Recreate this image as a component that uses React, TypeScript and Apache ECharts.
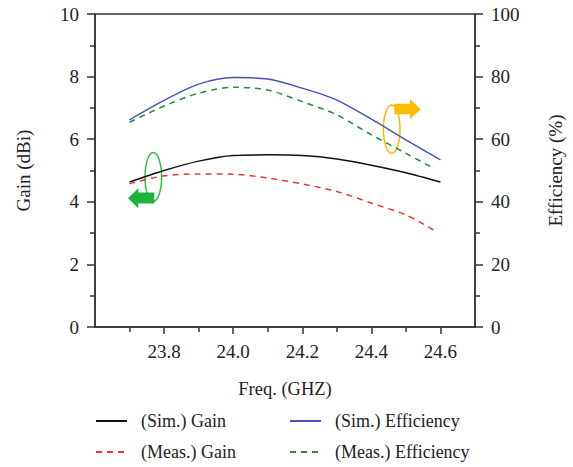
import React, { useEffect, useRef } from "react";
import * as echarts from "echarts";

const simFreq = [23.7, 23.8, 23.9, 24.0, 24.1, 24.2, 24.3, 24.4, 24.5, 24.6];
const measFreq = [23.7, 23.8, 23.9, 24.0, 24.1, 24.2, 24.3, 24.4, 24.5, 24.58];
const simGain = [4.63, 5.0, 5.3, 5.48, 5.5, 5.48, 5.37, 5.17, 4.93, 4.63];
const measGain = [4.58, 4.83, 4.89, 4.88, 4.76, 4.57, 4.33, 3.96, 3.58, 3.1];
const simEff = [66.2, 72.4, 77.6, 79.7, 79.2, 76.3, 72.5, 66.4, 59.8, 53.4];
const measEff = [65.4, 70.6, 74.7, 76.6, 75.7, 72.0, 67.8, 61.4, 55.5, 50.7];
const xTickValues = [23.8, 24.0, 24.2, 24.4, 24.6];
const seriesNames = ["(Sim.) Gain", "(Meas.) Gain", "(Sim.) Efficiency", "(Meas.) Efficiency"];

const FONT = "'Liberation Serif', 'Times New Roman', serif";
const AX = "#333";

export default function App() {
  const ref = useRef<HTMLDivElement>(null);
  useEffect(() => {
    if (!ref.current) return;
    const chart = echarts.init(ref.current, null, { renderer: "svg" });
    const pair = (xs: number[], ys: number[]) => xs.map((x, i) => [x, ys[i]]);
    const legendText = { fontFamily: FONT, fontSize: 18, color: "#222", padding: [0, 0, 0, 9] };
    const legendBase = {
      orient: "vertical",
      top: 412,
      height: 70,
      width: 200,
      padding: 0,
      itemWidth: 31,
      itemHeight: 14,
      itemGap: 13,
      textStyle: legendText,
      itemStyle: { opacity: 0 },
    };
    chart.setOption({
      animation: false,
      grid: { left: 95, right: 89, top: 14, bottom: 140, show: true, borderColor: AX, borderWidth: 1.5, backgroundColor: "transparent" },
      legend: [
        { ...legendBase, data: [seriesNames[0], seriesNames[1]], left: 95 },
        { ...legendBase, data: [seriesNames[2], seriesNames[3]], left: 289 },
      ],
      xAxis: {
        type: "value",
        min: 23.6,
        max: 24.7,
        interval: 0.2,
        name: "Freq. (GHZ)",
        nameLocation: "middle",
        nameGap: 52,
        nameTextStyle: { fontFamily: FONT, fontSize: 18.5, color: "#222" },
        axisLine: { lineStyle: { color: AX, width: 1.5 } },
        axisTick: { customValues: xTickValues, length: 7, lineStyle: { color: AX, width: 1.5 } },
        minorTick: { show: true, splitNumber: 2, length: 5, lineStyle: { color: AX, width: 1.5 } },
        axisLabel: {
          customValues: xTickValues,
          margin: 15,
          fontFamily: FONT,
          fontSize: 19,
          color: "#222",
          formatter: (v: number) => v.toFixed(1),
        },
        splitLine: { show: false },
      },
      yAxis: [
        {
          type: "value",
          min: 0,
          max: 10,
          interval: 2,
          name: "Gain (dBi)",
          nameLocation: "middle",
          nameGap: 62,
          nameTextStyle: { fontFamily: FONT, fontSize: 19, color: "#222" },
          axisLine: { show: true, lineStyle: { color: AX, width: 1.5 } },
          axisTick: { show: true, length: 8, lineStyle: { color: AX, width: 1.5 } },
          minorTick: { show: true, splitNumber: 2, length: 5, lineStyle: { color: AX, width: 1.5 } },
          axisLabel: { margin: 16, fontFamily: FONT, fontSize: 19, color: "#222" },
          splitLine: { show: false },
        },
        {
          type: "value",
          min: 0,
          max: 100,
          interval: 20,
          position: "right",
          name: "Efficiency (%)",
          nameLocation: "middle",
          nameRotate: 90,
          nameGap: 71,
          nameTextStyle: { fontFamily: FONT, fontSize: 19, color: "#222" },
          axisLine: { show: true, lineStyle: { color: AX, width: 1.5 } },
          axisTick: { show: true, length: 8, lineStyle: { color: AX, width: 1.5 } },
          minorTick: { show: true, splitNumber: 2, length: 5, lineStyle: { color: AX, width: 1.5 } },
          axisLabel: { margin: 16, fontFamily: FONT, fontSize: 19, color: "#222" },
          splitLine: { show: false },
        },
      ],
      series: [
        {
          name: seriesNames[0],
          type: "line",
          yAxisIndex: 0,
          data: pair(simFreq, simGain),
          smooth: 0.3,
          symbol: "none",
          lineStyle: { color: "#111", width: 1.5 },
          itemStyle: { color: "#111" },
        },
        {
          name: seriesNames[1],
          type: "line",
          yAxisIndex: 0,
          data: pair(measFreq, measGain),
          smooth: 0.3,
          symbol: "none",
          lineStyle: { color: "#e8392e", width: 1.5, type: [6, 5] },
          itemStyle: { color: "#e8392e" },
        },
        {
          name: seriesNames[2],
          type: "line",
          yAxisIndex: 1,
          data: pair(simFreq, simEff),
          smooth: 0.3,
          symbol: "none",
          lineStyle: { color: "#4a52b8", width: 1.5 },
          itemStyle: { color: "#4a52b8" },
        },
        {
          name: seriesNames[3],
          type: "line",
          yAxisIndex: 1,
          data: pair(measFreq, measEff),
          smooth: 0.3,
          symbol: "none",
          lineStyle: { color: "#1f8f3a", width: 1.5, type: [6, 5] },
          itemStyle: { color: "#1f8f3a" },
        },
      ],
      graphic: [
        {
          type: "ellipse",
          shape: { cx: 153.3, cy: 177, rx: 8.3, ry: 24.5 },
          style: { fill: "none", stroke: "#2fbf4a", lineWidth: 1.5 },
        },
        {
          type: "polygon",
          shape: {
            points: [
              [128, 198.3],
              [138.3, 188.3],
              [138.3, 192.5],
              [154.3, 192.5],
              [154.3, 203.5],
              [138.3, 203.5],
              [138.3, 208.3],
            ],
          },
          style: { fill: "#1db33c" },
        },
        {
          type: "ellipse",
          shape: { cx: 391.7, cy: 129.2, rx: 8.3, ry: 24.2 },
          style: { fill: "none", stroke: "#f7bb10", lineWidth: 1.5 },
        },
        {
          type: "polygon",
          shape: {
            points: [
              [420.7, 109.3],
              [410, 99],
              [410, 103.8],
              [394.3, 103.8],
              [394.3, 114.3],
              [410, 114.3],
              [410, 119.3],
            ],
          },
          style: { fill: "#fbbd00" },
        },
      ],
    });
    return () => chart.dispose();
  }, []);
  return <div ref={ref} style={{ width: 573, height: 467, position: "absolute", left: 0, top: 0 }} />;
}
